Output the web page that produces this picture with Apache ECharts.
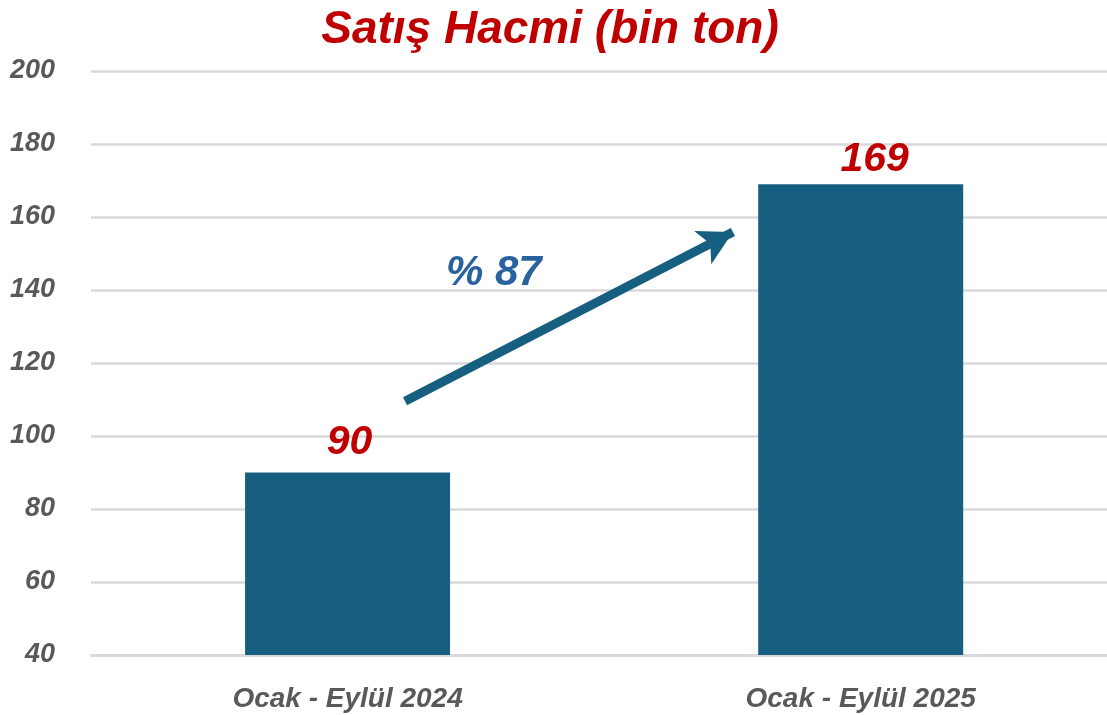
<!DOCTYPE html>
<html>
<head>
<meta charset="utf-8">
<script src="https://cdn.jsdelivr.net/npm/echarts@6/dist/echarts.min.js"></script>
<style>
    html, body {margin: 0; padding: 0; background: #fff;}
    #chart {width: 1107px; height: 715px;}
</style>
</head>
<body>
<div id="chart"></div>
<script>
// veriler
var categories = ['Ocak - Eylül 2024', 'Ocak - Eylül 2025'];
var salesVolume = [90, 169];
var yTicks = [40, 60, 80, 100, 120, 140, 160, 180, 200];
// ok: x = kategori sırası (kesirli), y = değer
var arrowStart = [0.112, 109.5];
var arrowEnd = [0.751, 155.9];
var growthLabel = '% 87';
var growthPos = [0.285, 144.5];

var FONT = '"Liberation Sans", Arial, sans-serif';
var chart = echarts.init(document.getElementById('chart'));

// bar etiketlerinin ince ayarı
var labelOffsets = [[2, -3], [14, 2]];
var barData = salesVolume.map(function (v, i) {
    return {value: [i, v], label: {offset: labelOffsets[i]}};
});

chart.setOption({
    animation: false,
    title: {
        text: 'Satış Hacmi (bin ton)',
        left: 545,
        top: 2,
        textAlign: 'center',
        textStyle: {color: '#c00000', fontSize: 46, fontWeight: 'bold', fontStyle: 'italic', fontFamily: FONT}
    },
    grid: {left: 91, top: 71, right: 0, bottom: 60, containLabel: false},
    xAxis: {
        type: 'value',
        min: -0.5,
        max: 1.48,
        splitLine: {show: false},
        axisTick: {show: false},
        axisLine: {show: true, onZero: false, lineStyle: {color: '#d9d9d9', width: 2.5}},
        axisLabel: {
            customValues: [0, 1],
            formatter: function (v) { return categories[Math.round(v)]; },
            margin: 30,
            color: '#595959', fontSize: 28, fontWeight: 'bold', fontStyle: 'italic', fontFamily: FONT
        }
    },
    yAxis: {
        type: 'value',
        min: yTicks[0],
        max: yTicks[yTicks.length - 1],
        interval: 20,
        axisLine: {show: false},
        axisTick: {show: false},
        splitLine: {lineStyle: {color: '#d9d9d9', width: 2.5}},
        axisLabel: {
            margin: 36,
            color: '#595959', fontSize: 27, fontWeight: 'bold', fontStyle: 'italic', fontFamily: FONT
        }
    },
    series: [{
        type: 'bar',
        data: barData,
        barWidth: 205,
        itemStyle: {color: '#175f80'},
        label: {
            show: true,
            position: 'top',
            distance: 6,
            formatter: function (p) { return p.value[1]; },
            color: '#c00000', fontSize: 41, fontWeight: 'bold', fontStyle: 'italic', fontFamily: FONT
        }
    }, {
        type: 'line',
        data: [arrowStart, arrowEnd],
        symbol: 'none',
        lineStyle: {opacity: 0},
        markLine: {
            silent: true,
            symbol: ['none', 'arrow'],
            symbolSize: [28, 34],
            label: {show: false},
            lineStyle: {color: '#175f80', width: 9, type: 'solid'},
            data: [[{coord: arrowStart}, {coord: arrowEnd}]]
        },
        markPoint: {
            silent: true,
            symbol: 'circle',
            symbolSize: 2,
            itemStyle: {color: 'transparent'},
            label: {
                show: true,
                position: 'inside',
                formatter: growthLabel,
                color: '#2a62a0', fontSize: 42, fontWeight: 'bold', fontStyle: 'italic', fontFamily: FONT
            },
            data: [{coord: growthPos, value: growthLabel}]
        }
    }]
});
</script>
</body>
</html>
